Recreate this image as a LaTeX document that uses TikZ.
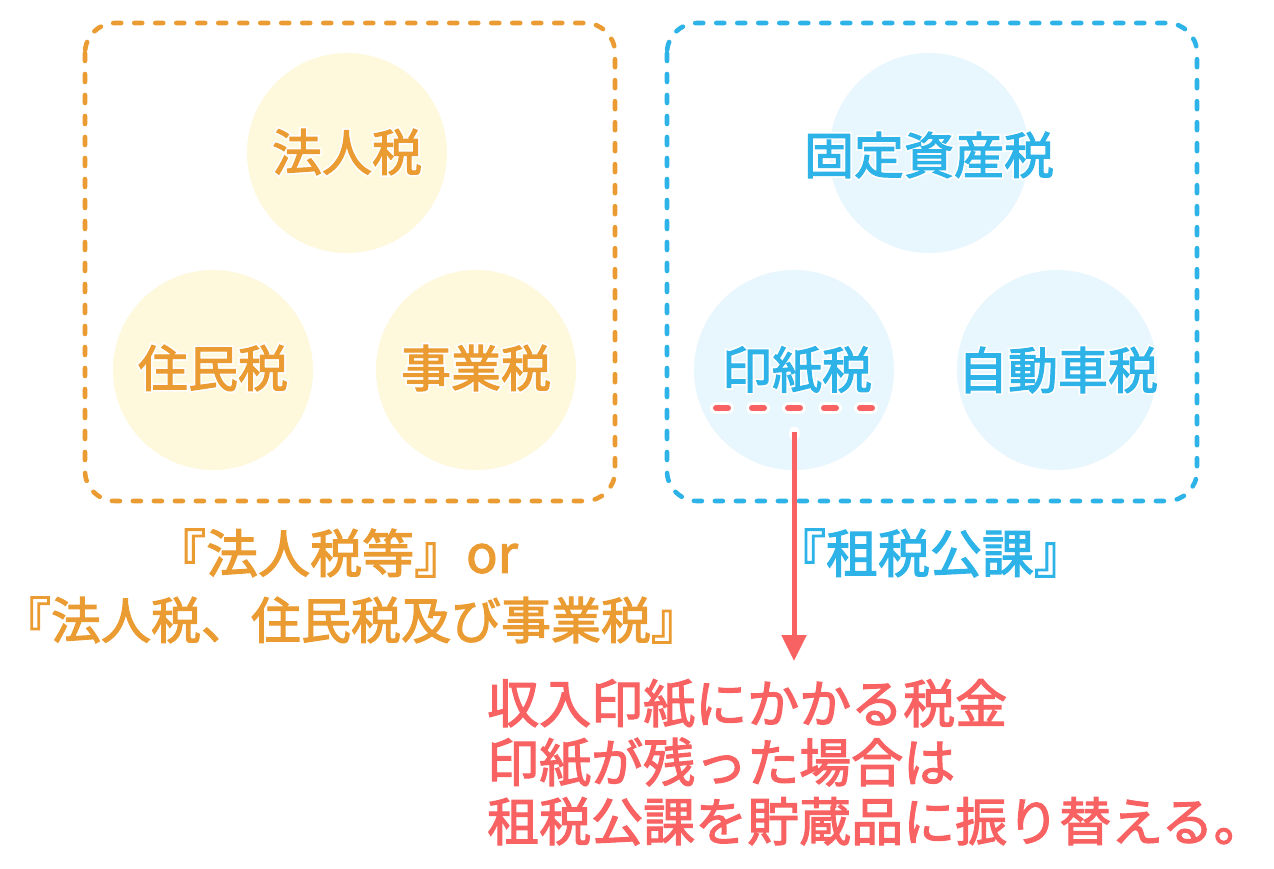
\documentclass[tikz,border=0pt]{standalone}
\usepackage{fontspec}
\setmainfont{Noto Sans CJK JP}[FakeBold=2.2]
\newfontfamily\halofont{Noto Sans CJK JP}[FakeBold=9]
\usetikzlibrary{arrows.meta}
\definecolor{orng}{HTML}{EA9C33}
\definecolor{blu}{HTML}{2EB3E8}
\definecolor{rd}{HTML}{F86262}
\definecolor{ylwfill}{HTML}{FEF8DC}
\definecolor{blufill}{HTML}{E8F6FD}
\tikzset{
  grpbox/.style={line width=4.6pt, rounded corners=30pt, dash pattern=on 8pt off 13pt, line cap=round},
  bubble/.style={circle, minimum size=200pt, inner sep=0pt, draw=none},
  jtxt/.style={font=\fontsize{50pt}{58pt}\selectfont, inner sep=0pt},
  halo/.style={font=\halofont\fontsize{50pt}{58pt}\selectfont, inner sep=0pt, text=white},
  lbl/.style={font=\fontsize{52pt}{60pt}\selectfont, inner sep=0pt},
}
\begin{document}
\begin{tikzpicture}[x=1pt,y=-1pt]
\useasboundingbox[fill=white] (0,0) rectangle (1274,868);
% boxes
\draw[grpbox, orng] (85,23) rectangle (615,501);
\draw[grpbox, blu] (667,23) rectangle (1197,501);
% circles
\node[bubble, fill=ylwfill] (c1) at (347,153) {};
\node[bubble, fill=ylwfill] (c2) at (213,370) {};
\node[bubble, fill=ylwfill] (c3) at (476,370) {};
\node[bubble, fill=blufill] (c4) at (929,153) {};
\node[bubble, fill=blufill] (c5) at (794,370) {};
\node[bubble, fill=blufill] (c6) at (1057,370) {};
% circle text halos
\node[halo] (h1) at (347,152) {法人税};
\node[halo] (h2) at (213,368) {住民税};
\node[halo] (h3) at (476,368) {事業税};
\node[halo] (h4) at (929,155) {固定資産税};
\node[halo] (h5) at (797,370) {印紙税};
\node[halo] (h6) at (1058,370) {自動車税};
% circle texts
\node[jtxt, text=orng] (t1) at (347,152) {法人税};
\node[jtxt, text=orng] (t2) at (213,368) {住民税};
\node[jtxt, text=orng] (t3) at (476,368) {事業税};
\node[jtxt, text=blu] (t4) at (929,155) {固定資産税};
\node[jtxt, text=blu] (t5) at (797,370) {印紙税};
\node[jtxt, text=blu] (t6) at (1058,370) {自動車税};
% underline
\coordinate (ulA) at (716,408);
\coordinate (ulB) at (876,408);
\draw[white, line width=12pt, line cap=round, dash pattern=on 12pt off 24pt] (ulA) -- (ulB);
\draw[rd, line width=6pt, line cap=round, dash pattern=on 12pt off 24pt] (ulA) -- (ulB);
% labels
\node[lbl, text=orng] (l1) at (336,553) {『法人税等』or};
\node[lbl, text=orng, font=\fontsize{50pt}{60pt}\selectfont] (l2) at (351,620) {『法人税、住民税及び事業税』};
\node[lbl, text=blu] (l3) at (930,553) {『租税公課』};
% note
\node[lbl, text=rd, anchor=north west, align=left, font=\fontsize{52pt}{59pt}\selectfont] (note) at (487,679) {収入印紙にかかる税金\\印紙が残った場合は\\租税公課を貯蔵品に振り替える。};
% arrow
\coordinate (aS) at (794,432);
\coordinate (aE) at (794,661);
\draw[white, line width=11pt, line cap=round] (aS) -- +(0,3);
\draw[rd, line width=5pt, -{Triangle[width=24pt,length=26pt]}] (aS) -- (aE);
\end{tikzpicture}
\end{document}
